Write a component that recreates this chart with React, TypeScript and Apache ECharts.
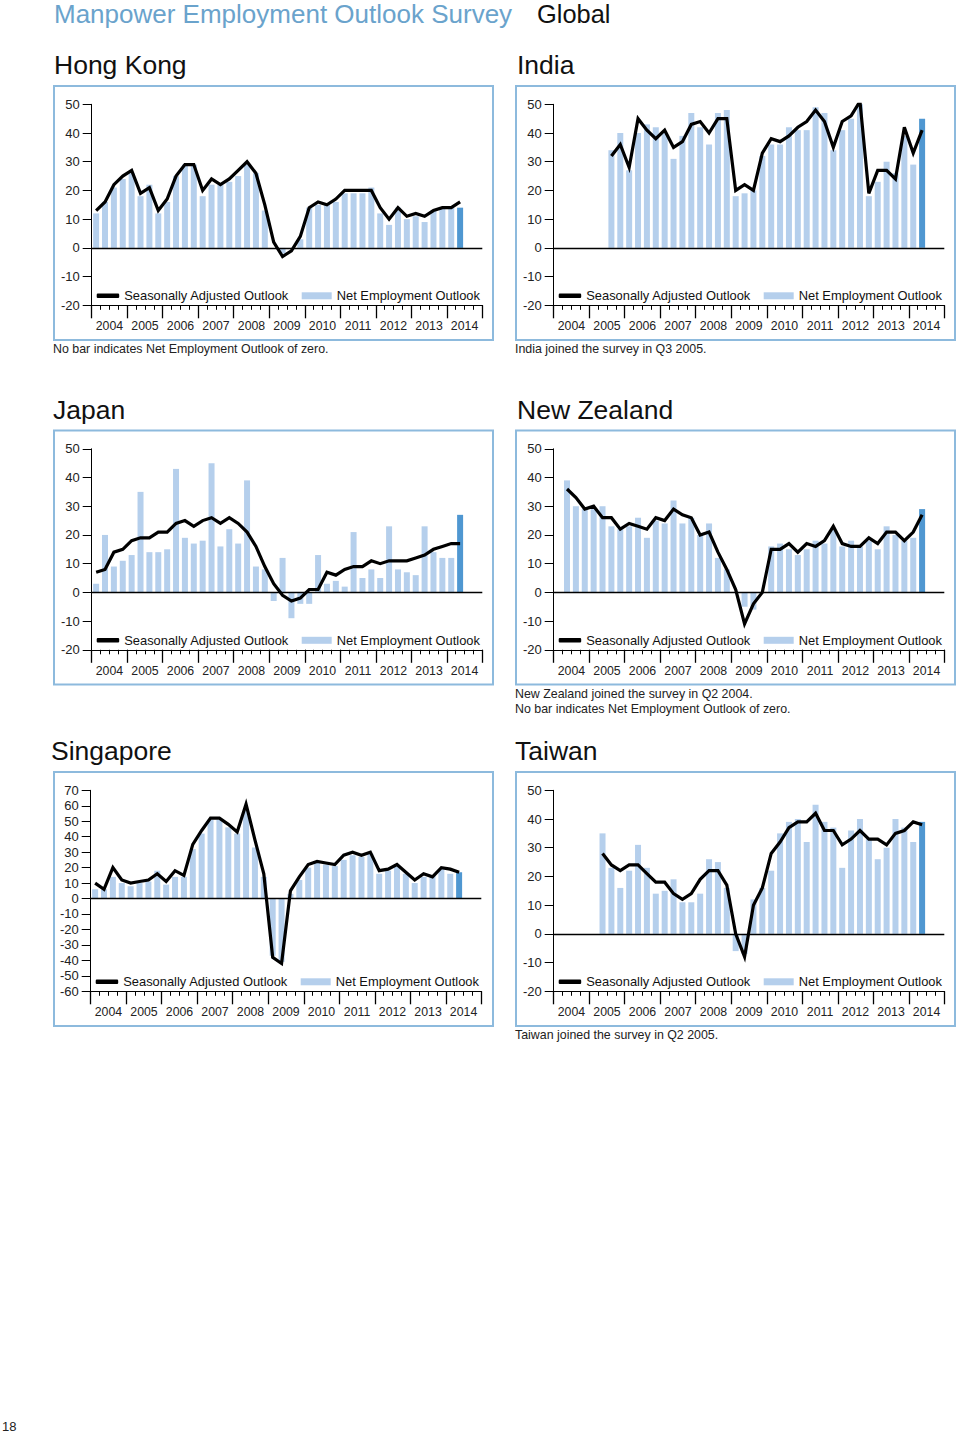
import React, { useEffect, useRef } from "react";
import * as echarts from "echarts";

// ---------- data ----------
const years = ["2004", "2005", "2006", "2007", "2008", "2009", "2010", "2011", "2012", "2013", "2014"];
const quarterNames = ["Q1", "Q2", "Q3", "Q4"];

const seriesNames = ["Seasonally Adjusted Outlook", "Net Employment Outlook"];

// Quarterly values, 2004 Q1 .. 2014 Q2 (null = not yet in survey)
const hongKongNeo = [12, 16, 21, 24, 26, 18, 22, 12, 16, 25, 29, 29, 18, 22, 22, 23, 25, 29, 26, 13, 0, -2, 0, 3, 14, 15, 15, 16, 19, 19, 19, 21, 12, 8, 14, 10, 11, 9, 13, 14, 14, 14];
const hongKongSa = [13, 16, 22, 25, 27, 19, 21, 13, 17, 25, 29, 29, 20, 24, 22, 24, 27, 30, 26, 15, 2, -3, -1, 4, 14, 16, 15, 17, 20, 20, 20, 20, 14, 10, 14, 11, 12, 11, 13, 14, 14, 16];

const indiaNeo = [null, null, null, null, null, null, 34, 40, 27, 40, 43, 42, 40, 31, 39, 47, 42, 36, 47, 48, 18, 19, 20, 32, 36, 36, 42, 41, 41, 49, 47, 34, 41, 45, 53, 18, 23, 30, 26, 39, 29, 45];
const indiaSa = [null, null, null, null, null, null, 32, 36, 28, 45, 41, 38, 41, 35, 37, 43, 44, 40, 45, 45, 20, 22, 20, 33, 38, 37, 39, 42, 44, 48, 44, 35, 44, 46, 51, 19, 27, 27, 24, 42, 33, 41];

const japanNeo = [3, 20, 9, 11, 13, 35, 14, 14, 15, 43, 19, 17, 18, 45, 16, 22, 17, 39, 9, 8, -3, 12, -9, -4, -4, 13, 3, 4, 2, 21, 5, 8, 5, 23, 8, 7, 6, 23, 14, 12, 12, 27];
const japanSa = [7, 8, 14, 15, 18, 19, 19, 21, 21, 24, 25, 23, 25, 26, 24, 26, 24, 21, 16, 9, 3, -1, -3, -2, 1, 1, 7, 6, 8, 9, 9, 11, 10, 11, 11, 11, 12, 13, 15, 16, 17, 17];

const newZealandNeo = [null, 39, 30, 29, 29, 30, 23, 22, 23, 26, 19, 25, 24, 32, 24, 26, 20, 24, 12, 8, 0, -5, -6, 0, 16, 17, 15, 13, 15, 18, 17, 22, 16, 18, 16, 18, 15, 23, 20, 18, 19, 29];
const newZealandSa = [null, 36, 33, 29, 30, 26, 26, 22, 24, 23, 22, 26, 25, 29, 27, 26, 20, 21, 14, 8, 1, -11, -4, 0, 15, 15, 17, 14, 17, 16, 18, 23, 17, 16, 16, 19, 17, 21, 21, 18, 21, 27];

const singaporeNeo = [6, 6, 14, 10, 8, 10, 11, 18, 9, 14, 14, 32, 42, 51, 51, 46, 42, 57, 33, 14, -37, -41, 3, 12, 20, 23, 22, 21, 25, 28, 27, 29, 16, 18, 21, 16, 10, 14, 15, 19, 16, 17];
const singaporeSa = [10, 6, 20, 12, 10, 11, 12, 16, 11, 18, 15, 35, 44, 52, 52, 48, 43, 61, 38, 16, -38, -42, 5, 14, 22, 24, 23, 22, 28, 30, 28, 30, 18, 19, 22, 17, 12, 16, 14, 20, 19, 17];

const taiwanNeo = [null, null, null, null, null, 35, 23, 16, 22, 31, 23, 14, 15, 19, 11, 11, 14, 26, 25, 16, -6, -7, 12, 16, 22, 35, 39, 40, 32, 45, 39, 37, 23, 36, 40, 33, 26, 30, 40, 37, 32, 39];
const taiwanSa = [null, null, null, null, null, 28, 24, 22, 24, 24, 21, 18, 18, 14, 12, 14, 19, 22, 22, 17, 0, -8, 10, 16, 28, 32, 37, 39, 39, 42, 36, 36, 31, 33, 36, 33, 33, 31, 35, 36, 39, 38];

const standardTicks = [-20, 50];
const singaporeTicks = [-60, 70];

// ---------- layout / style ----------
const FONT = "'Liberation Sans', Arial, Helvetica, sans-serif";
const LIGHT = "#b5cfec";
const DARK = "#4f97d1";
const BORDER = "#8dbadd";
const TITLE_BLUE = "#6aa3cc";

const panels = [
  { name: "Hong Kong", neo: hongKongNeo, sa: hongKongSa, range: standardTicks, bx: 54, by: 86, tx: 54, gl: 37.7, notes: ["No bar indicates Net Employment Outlook of zero."] },
  { name: "India", neo: indiaNeo, sa: indiaSa, range: standardTicks, bx: 516, by: 86, tx: 517, gl: 37.7, notes: ["India joined the survey in Q3 2005."] },
  { name: "Japan", neo: japanNeo, sa: japanSa, range: standardTicks, bx: 54, by: 430.5, tx: 53, gl: 37.7, notes: [] as string[] },
  { name: "New Zealand", neo: newZealandNeo, sa: newZealandSa, range: standardTicks, bx: 516, by: 430.5, tx: 517, gl: 37.7, notes: ["New Zealand joined the survey in Q2 2004.", "No bar indicates Net Employment Outlook of zero."] },
  { name: "Singapore", neo: singaporeNeo, sa: singaporeSa, range: singaporeTicks, bx: 54, by: 772, tx: 51, gl: 36.7, notes: [] as string[] },
  { name: "Taiwan", neo: taiwanNeo, sa: taiwanSa, range: standardTicks, bx: 516, by: 772, tx: 515, gl: 37.7, notes: ["Taiwan joined the survey in Q2 2005."] },
];

const BOX_W = 439;
const BOX_H = 254;
const GRID_W = 390.6;
const GRID_H = 201;
const GRID_TOP = 18.3;

function buildOption() {
  const quarters: string[] = [];
  years.forEach((y) => quarterNames.forEach((q) => quarters.push(y + " " + q)));

  const grid: any[] = [];
  const xAxis: any[] = [];
  const yAxis: any[] = [];
  const series: any[] = [];
  const legend: any[] = [];
  const graphic: any[] = [];

  graphic.push({
    type: "text",
    x: 54,
    y: 14,
    silent: true,
    style: { text: "Manpower Employment Outlook Survey", fontSize: 26, fontFamily: FONT, fill: TITLE_BLUE, verticalAlign: "middle", align: "left" },
  });
  graphic.push({
    type: "text",
    x: 537,
    y: 14,
    silent: true,
    style: { text: "Global", fontSize: 25.4, fontFamily: FONT, fill: "#111", verticalAlign: "middle", align: "left" },
  });
  graphic.push({
    type: "text",
    x: 2,
    y: 1426,
    silent: true,
    style: { text: "18", fontSize: 13, fontFamily: FONT, fill: "#222", verticalAlign: "middle", align: "left" },
  });

  panels.forEach((p, k) => {
    const gx = p.bx + p.gl;
    const gy = p.by + GRID_TOP;
    grid.push({ left: gx, top: gy, width: GRID_W, height: GRID_H, containLabel: false });

    xAxis.push({
      type: "category",
      gridIndex: k,
      data: quarters,
      boundaryGap: true,
      position: "bottom",
      axisLine: { show: true, onZero: false, lineStyle: { color: "#000", width: 1 } },
      axisTick: { show: true, interval: 0, length: 4.5, lineStyle: { color: "#000", width: 1 } },
      axisLabel: { show: false },
      splitLine: { show: false },
    });
    xAxis.push({
      type: "category",
      gridIndex: k,
      data: years,
      boundaryGap: true,
      position: "bottom",
      axisLine: { show: true, onZero: false, lineStyle: { color: "#000", width: 1 } },
      axisTick: { show: true, interval: 0, length: 13, lineStyle: { color: "#000", width: 1.3 } },
      axisLabel: { show: true, interval: 0, margin: 15, fontSize: 12.3, fontFamily: FONT, color: "#222" },
      splitLine: { show: false },
    });
    yAxis.push({
      type: "value",
      gridIndex: k,
      min: p.range[0],
      max: p.range[1],
      interval: 10,
      axisLine: { show: true, lineStyle: { color: "#000", width: 1 } },
      axisTick: { show: true, length: 9, lineStyle: { color: "#000", width: 1 } },
      axisLabel: { margin: 12, fontSize: 13, fontFamily: FONT, color: "#222" },
      splitLine: { show: false },
    });

    const last = p.neo.length - 1;
    series.push({
      type: "bar",
      name: seriesNames[1],
      xAxisIndex: 2 * k,
      yAxisIndex: k,
      barWidth: 6,
      itemStyle: { color: LIGHT },
      emphasis: { disabled: true },
      data: p.neo.map((v, i) => (i === last ? { value: v, itemStyle: { color: DARK } } : v)),
      markLine: {
        silent: true,
        symbol: ["none", "none"],
        label: { show: false },
        lineStyle: { color: "#000", width: 1.3, type: "solid" },
        emphasis: { disabled: true },
        data: [{ yAxis: 0 }],
      },
      z: 2,
    });
    series.push({
      type: "line",
      name: seriesNames[0],
      xAxisIndex: 2 * k,
      yAxisIndex: k,
      data: p.sa,
      symbol: "none",
      connectNulls: false,
      itemStyle: { color: "#000" },
      lineStyle: { color: "#000", width: 3.2, join: "miter" },
      emphasis: { disabled: true },
      z: 4,
    });

    const legendTop = gy + GRID_H - 9.5 - 7;
    legend.push({
      left: gx + 5,
      top: legendTop,
      padding: 0,
      itemWidth: 22.5,
      itemHeight: 4.5,
      selectedMode: false,
      data: [{ name: seriesNames[0], icon: "roundRect", itemStyle: { color: "#000" } }],
      textStyle: { fontSize: 12.9, fontFamily: FONT, color: "#111", lineHeight: 14 },
    });
    legend.push({
      left: gx + 210,
      top: legendTop,
      padding: 0,
      itemWidth: 30,
      itemHeight: 7,
      selectedMode: false,
      data: [{ name: seriesNames[1], icon: "rect", itemStyle: { color: LIGHT } }],
      textStyle: { fontSize: 12.9, fontFamily: FONT, color: "#111", lineHeight: 14 },
    });

    graphic.push({
      type: "rect",
      silent: true,
      z: -10,
      shape: { x: p.bx, y: p.by, width: BOX_W, height: BOX_H },
      style: { fill: "none", stroke: BORDER, lineWidth: 2 },
    });
    graphic.push({
      type: "text",
      x: p.tx,
      y: p.by - 21,
      silent: true,
      style: { text: p.name, fontSize: 26.5, fontFamily: FONT, fill: "#111", verticalAlign: "middle", align: "left" },
    });
    p.notes.forEach((n, j) => {
      graphic.push({
        type: "text",
        x: p.bx - 1,
        y: p.by + BOX_H + 9 + j * 15,
        silent: true,
        style: { text: n, fontSize: 12.4, fontFamily: FONT, fill: "#222", verticalAlign: "middle", align: "left" },
      });
    });
  });

  return {
    animation: false,
    backgroundColor: "#fff",
    grid,
    xAxis,
    yAxis,
    series,
    legend,
    graphic,
  };
}

export default function App() {
  const ref = useRef<HTMLDivElement>(null);
  useEffect(() => {
    if (!ref.current) return;
    const chart = echarts.init(ref.current, undefined, { renderer: "svg" });
    chart.setOption(buildOption() as any);
    return () => chart.dispose();
  }, []);
  return <div ref={ref} style={{ position: "absolute", left: 0, top: 0, width: 960, height: 1433 }} />;
}
